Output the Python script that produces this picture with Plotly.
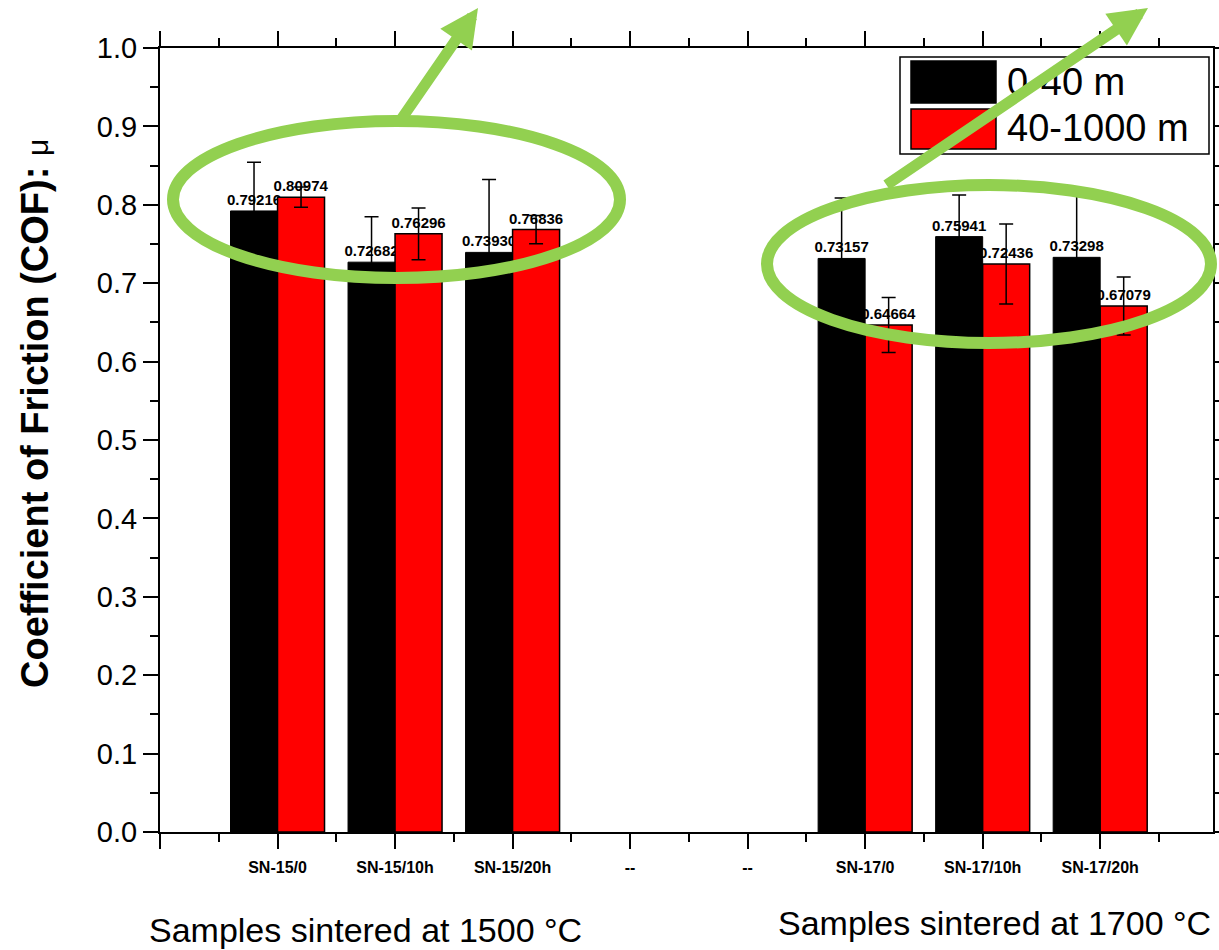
import plotly.graph_objects as go

# ---- data ----
tick_positions = [0, 1, 2, 3, 4, 5, 6, 7, 8]
tick_labels = ["", "SN-15/0", "SN-15/10h", "SN-15/20h", "--", "--", "SN-17/0", "SN-17/10h", "SN-17/20h"]
bar_positions = [1, 2, 3, 6, 7, 8]
cof_0_40 = [0.79216, 0.72682, 0.73930, 0.73157, 0.75941, 0.73298]
err_0_40 = [0.062, 0.058, 0.093, 0.077, 0.053, 0.085]
cof_40_1000 = [0.80974, 0.76296, 0.76836, 0.64664, 0.72436, 0.67079]
err_40_1000 = [0.013, 0.033, 0.018, 0.035, 0.051, 0.037]
series_names = ["0-40 m", "40-1000 m"]
group_labels = ["Samples sintered at 1500 \u00b0C", "Samples sintered at 1700 \u00b0C"]

FONT = "Arial, Liberation Sans, sans-serif"
GREEN = "#92D050"

# plot area in pixels
L, R, T, B = 160, 1213, 48, 832
W, H = 1219, 950


def px_x(p):
    return (p - L) / (R - L)


def px_y(p):
    return (B - p) / (B - T)


fig = go.Figure()

fig.add_trace(go.Bar(
    x=bar_positions, y=cof_0_40, name=series_names[0],
    offset=-0.4, width=0.4,
    marker=dict(color="black", line=dict(color="black", width=1)),
    error_y=dict(type="data", array=err_0_40, color="black", thickness=1.5, width=7),
    text=[f"{v:.5f}" for v in cof_0_40], textposition="outside",
    textfont=dict(family=FONT, size=15, color="black", weight="bold"),
    constraintext="none", cliponaxis=False, showlegend=False,
))
fig.add_trace(go.Bar(
    x=bar_positions, y=cof_40_1000, name=series_names[1],
    offset=0.0, width=0.4,
    marker=dict(color="#FF0000", line=dict(color="black", width=1.5)),
    error_y=dict(type="data", array=err_40_1000, color="black", thickness=1.5, width=7),
    text=[f"{v:.5f}" for v in cof_40_1000], textposition="outside",
    textfont=dict(family=FONT, size=15, color="black", weight="bold"),
    constraintext="none", cliponaxis=False, showlegend=False,
))

axis_common = dict(
    showline=True, linecolor="black", linewidth=2, mirror="allticks",
    ticks="outside", ticklen=15, tickwidth=2, tickcolor="black",
    showgrid=False, zeroline=False, automargin=False,
)

fig.update_xaxes(
    range=[0, 8.96],
    tickmode="array", tickvals=tick_positions, ticktext=tick_labels,
    tickfont=dict(family=FONT, size=16, color="black", weight="bold"),
    ticklabelstandoff=5,
    minor=dict(tickmode="array", tickvals=[p + 0.5 for p in tick_positions],
               ticklen=8, tickwidth=2, tickcolor="black", ticks="outside"),
    **axis_common,
)
fig.update_yaxes(
    range=[0, 1], dtick=0.1, tick0=0, tickformat=".1f",
    tickfont=dict(family=FONT, size=29, color="black"),
    minor=dict(dtick=0.05, ticklen=8, tickwidth=2, tickcolor="black", ticks="outside"),
    **axis_common,
)

shapes = []
# legend box
shapes.append(dict(type="rect", xref="paper", yref="paper",
                   x0=px_x(900), x1=px_x(1209), y0=px_y(154), y1=px_y(57),
                   line=dict(color="black", width=1.5), fillcolor="white", layer="above"))
shapes.append(dict(type="rect", xref="paper", yref="paper",
                   x0=px_x(911), x1=px_x(996), y0=px_y(103), y1=px_y(61),
                   line=dict(color="black", width=1.5), fillcolor="black", layer="above"))
shapes.append(dict(type="rect", xref="paper", yref="paper",
                   x0=px_x(911), x1=px_x(996), y0=px_y(149), y1=px_y(109),
                   line=dict(color="black", width=1.5), fillcolor="#FF0000", layer="above"))
# green ellipses
shapes.append(dict(type="circle", xref="paper", yref="paper",
                   x0=px_x(173), x1=px_x(620), y0=px_y(278), y1=px_y(121),
                   line=dict(color=GREEN, width=12), layer="above"))
shapes.append(dict(type="circle", xref="paper", yref="paper",
                   x0=px_x(767), x1=px_x(1211), y0=px_y(343), y1=px_y(185),
                   line=dict(color=GREEN, width=12), layer="above"))

annotations = [
    dict(text="<b>Coefficient of Friction (COF): </b><span style='font-size:30px'>\u03bc</span>",
         xref="paper", yref="paper", x=px_x(35), y=px_y(414), textangle=-90,
         showarrow=False, font=dict(family=FONT, size=38, color="black"),
         xanchor="center", yanchor="middle"),
    dict(text=series_names[0], xref="paper", yref="paper", x=px_x(1005), y=px_y(82),
         xanchor="left", yanchor="middle", showarrow=False,
         font=dict(family=FONT, size=38, color="black")),
    dict(text=series_names[1], xref="paper", yref="paper", x=px_x(1005), y=px_y(128),
         xanchor="left", yanchor="middle", showarrow=False,
         font=dict(family=FONT, size=38, color="black")),
    dict(text=group_labels[0], xref="paper", yref="paper", x=px_x(365), y=px_y(930),
         xanchor="center", yanchor="middle", showarrow=False,
         font=dict(family=FONT, size=34, color="black")),
    dict(text=group_labels[1], xref="paper", yref="paper", x=px_x(994), y=px_y(923),
         xanchor="center", yanchor="middle", showarrow=False,
         font=dict(family=FONT, size=34, color="black")),
    # arrows
    dict(text="", xref="paper", yref="paper", x=px_x(478), y=px_y(8),
         ax=400 - 478, ay=121 - 8, showarrow=True, arrowhead=2, arrowsize=0.7,
         arrowwidth=11, arrowcolor=GREEN, standoff=0, startstandoff=0),
    dict(text="", xref="paper", yref="paper", x=px_x(1148), y=px_y(8),
         ax=885 - 1148, ay=186 - 8, showarrow=True, arrowhead=2, arrowsize=0.7,
         arrowwidth=11, arrowcolor=GREEN, standoff=0, startstandoff=0),
]

fig.update_layout(
    width=W, height=H,
    margin=dict(l=L, r=W - R, t=T, b=H - B, pad=0, autoexpand=False),
    paper_bgcolor="white", plot_bgcolor="white",
    barmode="overlay",
    font=dict(family=FONT, color="black"),
    shapes=shapes, annotations=annotations,
    showlegend=False,
)

fig.write_html("out.html")
